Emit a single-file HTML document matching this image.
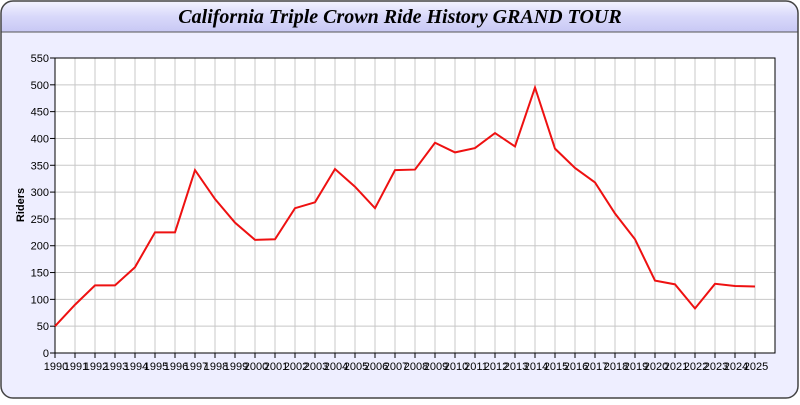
<!DOCTYPE html><html><head><style>body{margin:0;width:800px;height:400px;overflow:hidden;background:#fff}</style></head><body>
<svg width="800" height="400" xmlns="http://www.w3.org/2000/svg" font-family="Liberation Sans, sans-serif">
<defs><linearGradient id="g" x1="0" y1="0" x2="0" y2="1"><stop offset="0" stop-color="#f4f4ff"/><stop offset="0.5" stop-color="#d8d8fa"/><stop offset="1" stop-color="#c8c8f4"/></linearGradient>
<clipPath id="c"><rect x="1" y="1" width="797" height="397" rx="12"/></clipPath></defs>
<rect x="1" y="1" width="797" height="397" rx="12" fill="#eeeeff"/>
<rect x="1" y="1" width="797" height="31" fill="url(#g)" clip-path="url(#c)"/>
<line x1="1" y1="32" x2="798" y2="32" stroke="#555" stroke-width="1"/>
<rect x="1" y="1" width="797" height="397" rx="12" fill="none" stroke="#444" stroke-width="1.5"/>
<text x="400" y="23" text-anchor="middle" font-family="Liberation Serif, serif" font-weight="bold" font-style="italic" font-size="20">California Triple Crown Ride History GRAND TOUR</text>
<rect x="55" y="58" width="720" height="295" fill="#fff"/>
<g stroke="#c8c8c8" stroke-width="1" id="grid"></g>
<rect x="55" y="58" width="720" height="295" fill="none" stroke="#000"/>
<g id="ax" font-size="11"></g>
<text transform="translate(24,205) rotate(-90)" text-anchor="middle" font-size="11" font-weight="bold">Riders</text>
<polyline id="ln" fill="none" stroke="#ee1111" stroke-width="2"/>
</svg>
<script>
var ns="http://www.w3.org/2000/svg",g=document.getElementById('grid'),ax=document.getElementById('ax');
function el(p,t,a){var e=document.createElementNS(ns,t);for(var k in a)e.setAttribute(k,a[k]);p.appendChild(e);return e}
for(var v=0;v<=550;v+=50){var y=353-v*295/550;el(g,'line',{x1:55,x2:775,y1:y,y2:y});el(ax,'line',{x1:50,x2:55,y1:y,y2:y,stroke:'#000'});var t=el(ax,'text',{x:49,y:y+4,'text-anchor':'end'});t.textContent=v;}
for(var i=0;i<=36;i++){var x=55+i*20;el(g,'line',{x1:x,x2:x,y1:58,y2:353});if(i<36){el(ax,'line',{x1:x,x2:x,y1:353,y2:358,stroke:'#000'});var t=el(ax,'text',{x:x+1,y:370,'text-anchor':'middle'});t.textContent=1990+i;}}
var d=[50,90,126,126,160,225,225,341,287,243,211,212,270,281,343,310,270,341,342,392,374,382,410,385,495,381,345,318,260,212,135,128,83,129,125,124];
document.getElementById('ln').setAttribute('points',d.map(function(v,i){return (55+i*20)+','+(353-v*295/550)}).join(' '));
</script>
</body></html>
